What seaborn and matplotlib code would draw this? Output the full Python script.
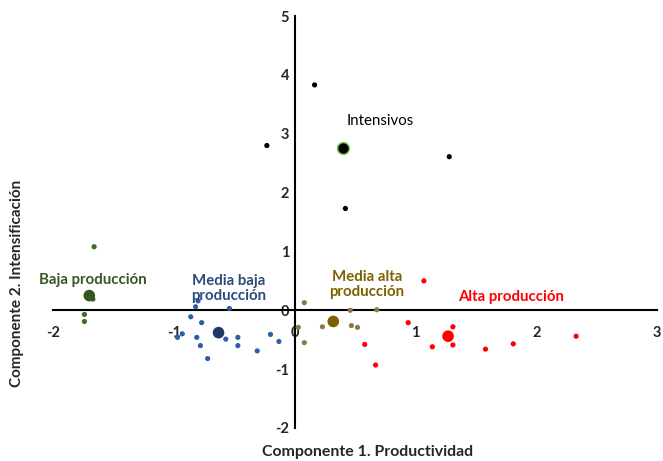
import pandas as pd
import seaborn as sns
import matplotlib.pyplot as plt

# puntos por grupo (componente 1, componente 2)
grupos = ['Intensivos', 'Baja producción', 'Media baja producción',
          'Media alta producción', 'Alta producción']

int_x = [0.165, -0.23, 1.28, 0.42]
int_y = [3.83, 2.80, 2.61, 1.73]

baja_x = [-1.66, -1.67, -1.74, -1.74]
baja_y = [1.08, 0.19, -0.07, -0.19]

mbaja_x = [-0.80, -0.82, -0.54, -0.86, -0.77, -0.93, -0.97, -0.81, -0.57,
           -0.47, -0.20, -0.13, -0.78, -0.47, -0.31, -0.72]
mbaja_y = [0.16, 0.06, 0.03, -0.11, -0.21, -0.40, -0.46, -0.46, -0.49,
           -0.46, -0.41, -0.53, -0.60, -0.60, -0.69, -0.82]

malta_x = [0.08, 0.46, 0.68, 0.03, 0.23, 0.47, 0.52, 0.08]
malta_y = [0.13, 0.00, 0.01, -0.29, -0.28, -0.26, -0.29, -0.55]

alta_x = [1.07, 0.94, 1.31, 2.33, 0.58, 1.14, 1.31, 1.58, 1.81, 0.67]
alta_y = [0.50, -0.21, -0.28, -0.44, -0.58, -0.62, -0.59, -0.66, -0.57, -0.93]

# centroides
cent_x = [0.40, -1.70, -0.63, 0.32, 1.27]
cent_y = [2.75, 0.25, -0.38, -0.19, -0.44]

# etiquetas de grupo
lab_txt = ['Intensivos', 'Baja producción', 'Media baja\nproducción',
           'Media alta\nproducción', 'Alta producción']
lab_x = [0.71, -1.67, -0.55, 0.60, 1.79]
lab_y = [3.22, 0.51, 0.37, 0.44, 0.22]

col_pts = {'Intensivos': 'black', 'Baja producción': '#3F6B2A',
           'Media baja producción': '#2F5DA8', 'Media alta producción': '#8C7A45',
           'Alta producción': '#FF0000'}
col_cent = ['black', '#375623', '#1F3864', '#7F6000', '#FF0000']
col_lab = ['black', '#375623', '#2F4A7A', '#7F6000', '#FF0000']

xs = [int_x, baja_x, mbaja_x, malta_x, alta_x]
ys = [int_y, baja_y, mbaja_y, malta_y, alta_y]
df = pd.concat([pd.DataFrame({'C1': a, 'C2': b, 'Grupo': g})
                for a, b, g in zip(xs, ys, grupos)], ignore_index=True)
df_c = pd.DataFrame({'C1': cent_x, 'C2': cent_y, 'Grupo': grupos})

sns.set_style('white')
plt.rcParams['font.family'] = ['Lato', 'DejaVu Sans']
plt.rcParams['axes.unicode_minus'] = False

fig = plt.figure(figsize=(6.63, 4.61), dpi=100)
ax = fig.add_axes([0.080, 0.0716, 0.911, 0.8936])

sns.scatterplot(data=df, x='C1', y='C2', hue='Grupo', palette=col_pts,
                s=14, linewidth=0, legend=False, ax=ax, zorder=3)
sns.scatterplot(data=df_c, x='C1', y='C2', hue='Grupo',
                palette=dict(zip(grupos, col_cent)), s=70, linewidth=0,
                legend=False, ax=ax, zorder=4)
# borde verde del centroide de intensivos
ax.scatter(cent_x[0], cent_y[0], s=70, facecolor='black', edgecolor='#70C040',
           linewidth=1, zorder=5)

for t, x, y, c in zip(lab_txt, lab_x, lab_y, col_lab):
    ax.text(x, y, t, color=c, ha='center', va='center', fontsize=10.8,
            fontweight='normal' if t == 'Intensivos' else 'bold',
            linespacing=1.05, zorder=6)

ax.set_xlim(-2, 3)
ax.set_ylim(-2, 5)
ax.set_xticks([-2, -1, 0, 1, 2, 3])
ax.set_yticks([-2, -1, 0, 1, 2, 3, 4, 5])
ax.spines['left'].set_position(('data', 0))
ax.spines['bottom'].set_position(('data', 0))
ax.spines['top'].set_visible(False)
ax.spines['right'].set_visible(False)
for s in ['left', 'bottom']:
    ax.spines[s].set_color('black')
    ax.spines[s].set_linewidth(1.5)
    ax.spines[s].set_zorder(2)
ax.tick_params(axis='x', length=0, pad=11, labelsize=10.5)
ax.tick_params(axis='y', length=0, pad=4, labelsize=10.5)
for lbl in ax.get_xticklabels() + ax.get_yticklabels():
    lbl.set_fontweight('bold')

ax.set_xlabel('Componente 1. Productividad', fontsize=11.4, fontweight='bold')
ax.set_ylabel('Componente 2. Intensificación', fontsize=11, fontweight='bold')
ax.xaxis.set_label_coords(0.5215, -0.041)
ax.yaxis.set_label_coords(-0.048, 0.352)

plt.savefig('out.png', dpi=100)
